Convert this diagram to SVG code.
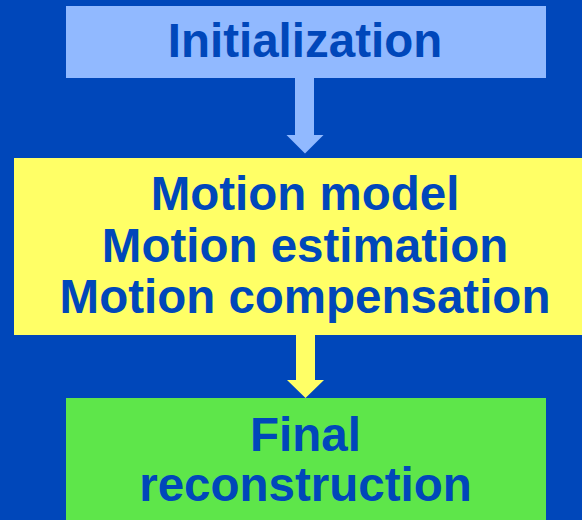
<svg xmlns="http://www.w3.org/2000/svg" width="582" height="520" viewBox="0 0 582 520">
  <style>
    .label { font-family: "Liberation Sans", Arial, sans-serif; font-weight: bold; font-size: 47.5px; fill: #0047BA; text-anchor: middle; }
  </style>
  <!-- backdrop -->
  <rect x="0" y="0" width="582" height="520" fill="#0047BA"/>

  <!-- connectors: block arrows between the stages -->
  <g id="connectors">
    <polygon id="arrow-init-motion" fill="#91B9FF"
      points="295,78 314,78 314,135 323.5,135 305,153.5 286.5,135 295,135"/>
    <polygon id="arrow-motion-final" fill="#FFFF66"
      points="296,334 315,334 315,380 324,380 305.5,398 287,380 296,380"/>
  </g>

  <g id="initialization">
    <rect x="66" y="6" width="480" height="72" fill="#91B9FF"/>
    <text class="label" x="305" y="57">Initialization</text>
  </g>

  <g id="motion">
    <rect x="14" y="158" width="568" height="177" fill="#FFFF66"/>
    <text class="label" x="305" y="210">Motion model</text>
    <text class="label" x="305" y="261.5">Motion estimation</text>
    <text class="label" x="305" y="313">Motion compensation</text>
  </g>

  <g id="final-reconstruction">
    <rect x="66" y="398" width="480" height="122" fill="#5EE64A"/>
    <text class="label" x="305.5" y="450.5">Final</text>
    <text class="label" x="305.5" y="500.5">reconstruction</text>
  </g>
</svg>
